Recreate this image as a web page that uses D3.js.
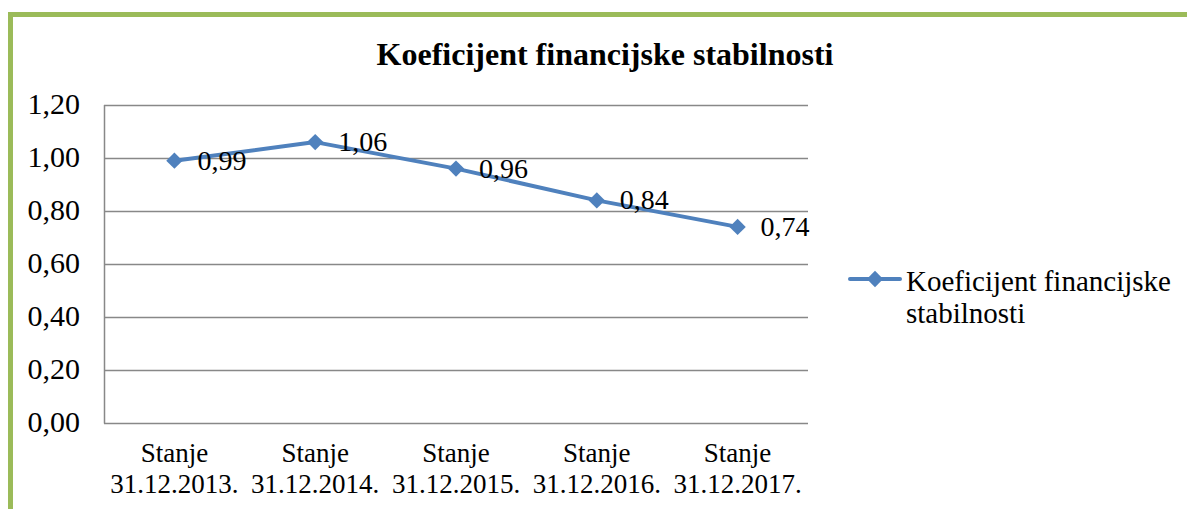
<!DOCTYPE html>
<html><head><meta charset="utf-8">
<script src="https://cdn.jsdelivr.net/npm/d3@7"></script>
<style>body{margin:0;background:#fff}svg{display:block}text{font-family:"Liberation Serif","Times New Roman",serif;fill:#000}</style>
</head><body>
<svg id="c" width="1187" height="509"></svg>
<script>
const title = "Koeficijent financijske stabilnosti";
const seriesName = "Koeficijent financijske stabilnosti";
const categories = [["Stanje","31.12.2013."],["Stanje","31.12.2014."],["Stanje","31.12.2015."],["Stanje","31.12.2016."],["Stanje","31.12.2017."]];
const values = [0.99, 1.06, 0.96, 0.84, 0.74];
const yTicks = [0, 0.2, 0.4, 0.6, 0.8, 1.0, 1.2];

const svg = d3.select("#c");
const fmt = v => d3.format(".2f")(v).replace(".", ",");
const m = {l:104, r:808, t:105, b:423};
const x = d3.scaleBand().domain(d3.range(categories.length)).range([m.l, m.r]);
const y = d3.scaleLinear().domain([0, 1.2]).range([m.b, m.t]);

// border
svg.append("rect").attr("x",10.5).attr("y",14.5).attr("width",1300).attr("height",600)
  .attr("fill","none").attr("stroke","#9BBB59").attr("stroke-width",5);

// title
svg.append("text").attr("x",605).attr("y",65).attr("text-anchor","middle")
  .style("font-size","32px").style("font-weight","bold").text(title);

// gridlines
svg.append("g").selectAll("line").data(yTicks).join("line")
  .attr("x1",m.l).attr("x2",m.r).attr("y1",d=>Math.round(y(d))+0.5).attr("y2",d=>Math.round(y(d))+0.5)
  .attr("stroke","#888").attr("stroke-width",1.5);
// y axis line
svg.append("line").attr("x1",m.l+0.5).attr("x2",m.l+0.5).attr("y1",m.t).attr("y2",m.b+0.5)
  .attr("stroke","#888").attr("stroke-width",1.5);

// y labels
svg.append("g").selectAll("text").data(yTicks).join("text")
  .attr("x",80).attr("y",d=>y(d)+9).attr("text-anchor","end").style("font-size","30px").text(fmt);

// x labels
const xl = svg.append("g").selectAll("text").data(categories).join("text")
  .attr("text-anchor","middle").style("font-size","27px");
xl.append("tspan").attr("x",(d,i)=>x(i)+x.bandwidth()/2).attr("y",462).text(d=>d[0]);
xl.append("tspan").attr("x",(d,i)=>x(i)+x.bandwidth()/2).attr("y",493).text(d=>d[1]);

// line
const cx = i => x(i)+x.bandwidth()/2;
svg.append("path").datum(values).attr("fill","none").attr("stroke","#4F81BD").attr("stroke-width",4)
  .attr("stroke-linejoin","round").attr("stroke-linecap","round")
  .attr("d", d3.line().x((d,i)=>cx(i)).y(d=>y(d)));
const diamond = d3.symbol().type(d3.symbolDiamond2).size(170);
svg.append("g").selectAll("path").data(values).join("path")
  .attr("transform",(d,i)=>`translate(${cx(i)},${y(d)})`).attr("d",diamond).attr("fill","#4F81BD");

// data labels
svg.append("g").selectAll("text").data(values).join("text")
  .attr("x",(d,i)=>cx(i)+23).attr("y",d=>y(d)+9).style("font-size","28px").text(fmt);

// legend
svg.append("line").attr("x1",850).attr("x2",900).attr("y1",279).attr("y2",279)
  .attr("stroke","#4F81BD").attr("stroke-width",4).attr("stroke-linecap","round");
svg.append("path").attr("transform","translate(875,279)").attr("d",diamond).attr("fill","#4F81BD");
const lt = svg.append("text").style("font-size","29px");
lt.append("tspan").attr("x",906).attr("y",291).text("Koeficijent financijske");
lt.append("tspan").attr("x",906).attr("y",323).text("stabilnosti");
</script>
</body></html>
